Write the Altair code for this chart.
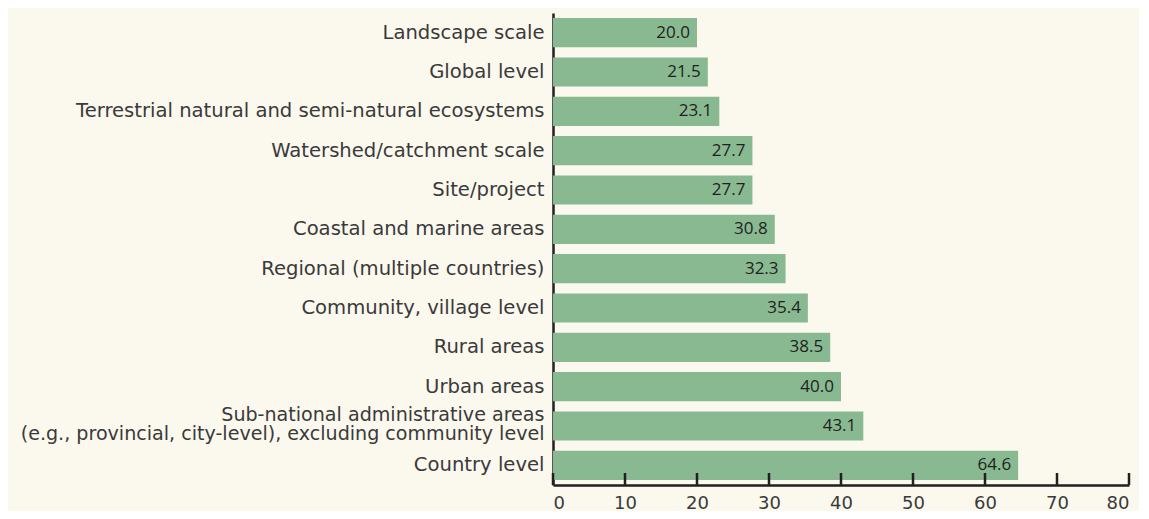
import altair as alt
import pandas as pd

categories = [
    "Landscape scale",
    "Global level",
    "Terrestrial natural and semi-natural ecosystems",
    "Watershed/catchment scale",
    "Site/project",
    "Coastal and marine areas",
    "Regional (multiple countries)",
    "Community, village level",
    "Rural areas",
    "Urban areas",
    "Sub-national administrative areas |(e.g., provincial, city-level), excluding community level",
    "Country level",
]
values = [20.0, 21.5, 23.1, 27.7, 27.7, 30.8, 32.3, 35.4, 38.5, 40.0, 43.1, 64.6]
x_ticks = [0, 10, 20, 30, 40, 50, 60, 70, 80]

df = pd.DataFrame({"category": categories, "value": values})
ticks_df = pd.DataFrame({"t": x_ticks})

BG = "#FBF8EE"
BAR = "#88B991"
DARK = "#231F20"
TXT = "#3A3A3A"

W, H = 576, 472

xscale = alt.Scale(domain=[0, 80], nice=False, zero=True)

multi = "indexof(datum.value, '|') >= 0"

y_enc = alt.Y(
    "category:N",
    sort=categories,
    scale=alt.Scale(paddingInner=0.26, paddingOuter=0.13),
    axis=alt.Axis(
        title=None,
        ticks=False,
        labelFont="DejaVu Sans",
        labelFontSize={"condition": {"test": multi, "value": 19.1}, "value": 19.6},
        labelColor=TXT,
        labelPadding=9,
        labelLimit=600,
        labelLineHeight=19,
        labelExpr="split(datum.label, '|')",
        labelOffset={"condition": {"test": multi, "value": -11}, "value": 0},
        domainColor=DARK,
        domainWidth=2.5,
    ),
)

bars = alt.Chart(df).mark_bar(color=BAR).encode(
    x=alt.X(
        "value:Q",
        scale=xscale,
        axis=alt.Axis(
            title=None,
            values=x_ticks,
            ticks=False,
            grid=False,
            labelFont="DejaVu Sans",
            labelFontSize=18,
            labelColor=TXT,
            labelPadding=9,
            domainColor=DARK,
            domainWidth=2.5,
        ),
    ),
    y=y_enc,
)

labels = alt.Chart(df).mark_text(
    align="right", dx=-7, font="Open Sans", fontSize=17, color=DARK, baseline="middle"
).encode(
    x=alt.X("value:Q", scale=xscale),
    y=alt.Y("category:N", sort=categories),
    text=alt.Text("value:Q", format=".1f"),
)

tick_marks = alt.Chart(ticks_df).mark_rule(color=DARK, strokeWidth=2.5).encode(
    x=alt.X("t:Q", scale=xscale),
    y=alt.value(H - 12),
    y2=alt.value(H),
)

chart = (
    alt.layer(bars, labels, tick_marks)
    .properties(
        width=W,
        height=H,
        background=BG,
        padding={"left": 545, "top": 5, "right": 10, "bottom": 26},
        autosize=alt.AutoSizeParams(type="none"),
    )
    .configure_view(stroke=None)
)

chart.save("out.html", embed_options={"renderer": "svg", "actions": False})
